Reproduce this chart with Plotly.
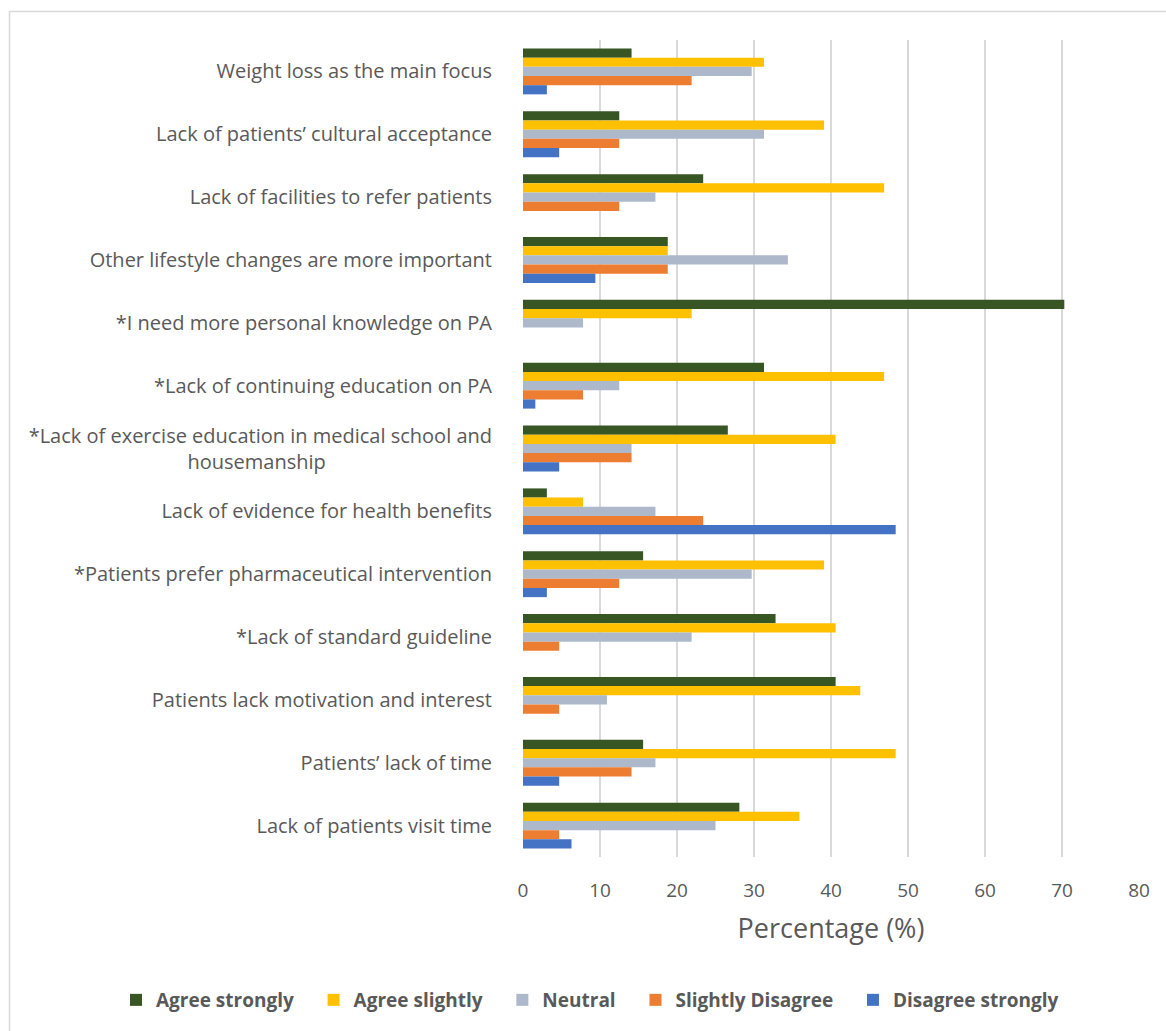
import plotly.graph_objects as go

categories = [
    "Weight loss as the main focus",
    "Lack of patients’ cultural acceptance",
    "Lack of facilities to refer patients",
    "Other lifestyle changes are more important",
    "*I need more personal knowledge on PA",
    "*Lack of continuing education on PA",
    "*Lack of exercise education in medical school and<br>housemanship" + "&nbsp;" * 32,
    "Lack of evidence for health benefits",
    "*Patients prefer pharmaceutical intervention",
    "*Lack of standard guideline",
    "Patients lack motivation and interest",
    "Patients’ lack of time",
    "Lack of patients visit time",
]

agree_strongly    = [14.1, 12.5, 23.4, 18.8, 70.3, 31.3, 26.6, 3.1, 15.6, 32.8, 40.6, 15.6, 28.1]
agree_slightly    = [31.3, 39.1, 46.9, 18.8, 21.9, 46.9, 40.6, 7.8, 39.1, 40.6, 43.8, 48.4, 35.9]
neutral           = [29.7, 31.3, 17.2, 34.4, 7.8, 12.5, 14.1, 17.2, 29.7, 21.9, 10.9, 17.2, 25.0]
slightly_disagree = [21.9, 12.5, 12.5, 18.8, 0, 7.8, 14.1, 23.4, 12.5, 4.7, 4.7, 14.1, 4.7]
disagree_strongly = [3.1, 4.7, 0, 9.4, 0, 1.6, 4.7, 48.4, 3.1, 0, 0, 4.7, 6.3]

series_names = ["Agree strongly", "Agree slightly", "Neutral", "Slightly Disagree", "Disagree strongly"]
series_values = [agree_strongly, agree_slightly, neutral, slightly_disagree, disagree_strongly]
series_colors = ["#375623", "#FFC000", "#ADB9CA", "#ED7D31", "#4472C4"]

x_ticks = [0, 10, 20, 30, 40, 50, 60, 70, 80]

FONT = "Open Sans"
TXT = "#595959"

fig = go.Figure()
for i, (name, vals, col) in enumerate(zip(series_names, series_values, series_colors)):
    pad = "&nbsp;" * 3 if i < len(series_names) - 1 else ""
    fig.add_trace(go.Bar(
        y=categories, x=vals, name=name + pad, orientation="h",
        marker=dict(color=col, line=dict(width=0)),
    ))

W, H = 1166, 1031
L, R, T, B = 523, 27, 40, 174
pw, ph = W - L - R, H - T - B

def px_to_paper_x(px):
    return (px - L) / pw

def px_to_paper_y(py):
    return 1 - (py - T) / ph

fig.add_shape(type="rect", xref="paper", yref="paper",
              x0=px_to_paper_x(9.5), x1=px_to_paper_x(1180),
              y0=px_to_paper_y(1050), y1=px_to_paper_y(11.5),
              line=dict(color="#D9D9D9", width=1.5), fillcolor="rgba(0,0,0,0)", layer="below")

fig.update_layout(
    width=W, height=H,
    margin=dict(l=L, r=R, t=T, b=B, pad=0),
    paper_bgcolor="white", plot_bgcolor="white",
    barmode="group", bargap=0.27, bargroupgap=0,
    font=dict(family=FONT, color=TXT, size=19),
    showlegend=True,
    legend=dict(orientation="h", xref="paper", yref="paper",
                x=px_to_paper_x(116), xanchor="left", y=px_to_paper_y(1000), yanchor="middle",
                font=dict(family=FONT, size=19, color=TXT, weight="bold"),
                traceorder="normal", itemwidth=30, borderwidth=0),
    xaxis=dict(range=[0, 80], tickvals=x_ticks, showgrid=True, gridcolor="#D9D9D9", gridwidth=1.5,
               zeroline=False, showline=False, ticks="outside", ticklen=16,
               tickcolor="rgba(0,0,0,0)", tickfont=dict(size=19, color=TXT, family=FONT),
               title=dict(text="Percentage (%)", font=dict(size=27, color=TXT, family=FONT), standoff=17),
               fixedrange=True),
    yaxis=dict(autorange="reversed", showgrid=False, zeroline=False, showline=False,
               ticks="outside", ticklen=26, tickcolor="rgba(0,0,0,0)",
               tickfont=dict(size=20, color=TXT, family=FONT), fixedrange=True),
)

fig.write_html("out.html")
